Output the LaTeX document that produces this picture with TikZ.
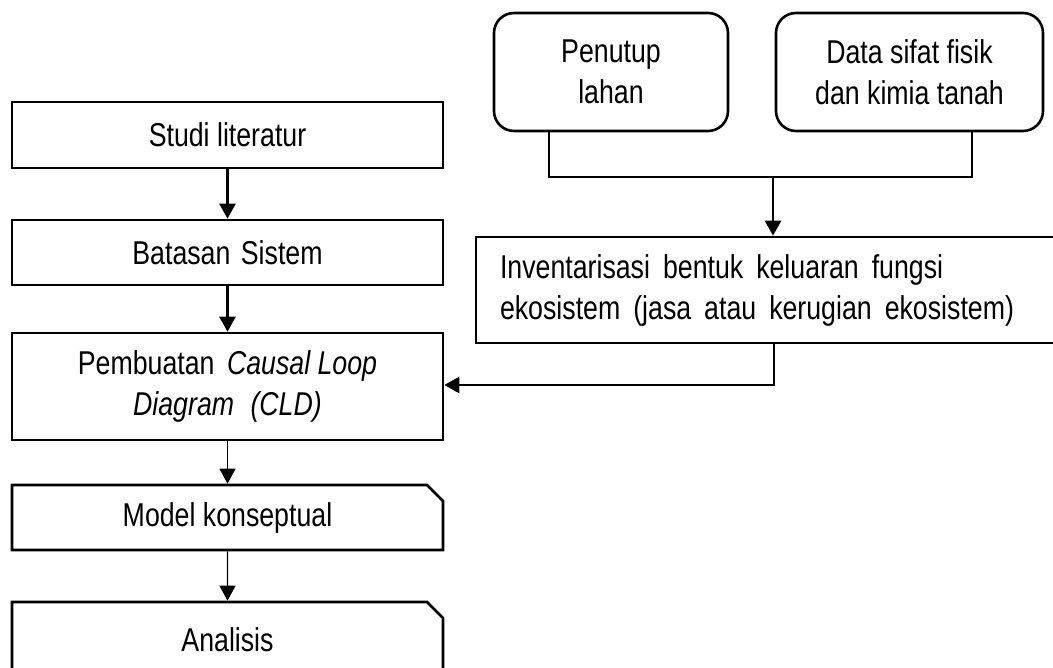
\documentclass[tikz,border=0pt]{standalone}
\usepackage{fontspec}
\setmainfont{Liberation Sans}[FakeStretch=0.81]
\usetikzlibrary{arrows.meta,shapes.misc}
\begin{document}
\begin{tikzpicture}[x=1pt,y=-1pt,
  font=\fontsize{33}{41}\selectfont,
  box/.style={draw, line width=2.6pt, minimum width=431pt, inner sep=0pt, align=center},
  cbox/.style={box, chamfered rectangle, chamfered rectangle corners=north east,
               chamfered rectangle sep=8pt},
  rbox/.style={draw, line width=2.6pt, rounded corners=20pt, minimum height=118pt,
               inner sep=0pt, align=center},
  tip/.style={-{Triangle[length=15pt,width=16pt]}},
  arr/.style={line width=2.6pt, tip},
  thinarr/.style={line width=1.3pt, tip},
  conn/.style={line width=2.4pt}]
\useasboundingbox (0,0) rectangle (1053,668);
\clip (0,0) rectangle (1053,668);

% left column
\node[box, minimum height=66pt] (studi) at (227.5,135) {Studi literatur};
\node[box, minimum height=65pt] (batasan) at (227.5,252.5) {Batasan\hspace{3pt} Sistem};
\node[box, minimum height=107pt] (cld) at (227.5,386.5)
  {Pembuatan\hspace{5pt} \textit{Causal Loop}\\ \textit{Diagram\hspace{9pt} (CLD)}};
\node[cbox, minimum height=65pt] (model) at (227.5,517.5) {Model konseptual};
\node[cbox, minimum height=76pt] (analisis) at (227.5,640) {Analisis};

% right side
\node[rbox, minimum width=234pt] (penutup) at (611,72) {Penutup\\lahan};
\node[rbox, minimum width=267pt] (data) at (909.5,72) {Data sifat fisik\\dan kimia tanah};
\node[draw, line width=2.6pt, minimum height=106pt, text width=551pt,
      inner xsep=24pt, inner ysep=0pt, align=left] (inv) at (775.5,290)
  {\spaceskip=13pt\relax Inventarisasi bentuk keluaran fungsi\\
   ekosistem (jasa atau kerugian ekosistem)};

% connectors
\draw[arr] (studi) -- (batasan);
\draw[arr] (batasan) -- (cld);
\draw[thinarr] (cld) -- (model);
\draw[thinarr] (model) -- (analisis);

\coordinate (j1) at (549,177);
\coordinate (j2) at (972,177);
\coordinate (j) at (773,177);
\draw[conn] (penutup.south -| j1) -- (j1) -- (j2) -- (data.south -| j2);
\draw[arr] (j) -- (inv.north -| j);

\coordinate (k) at (774,385);
\draw[arr] (inv.south -| k) -- (k) -- (cld.east |- k);
\end{tikzpicture}
\end{document}
